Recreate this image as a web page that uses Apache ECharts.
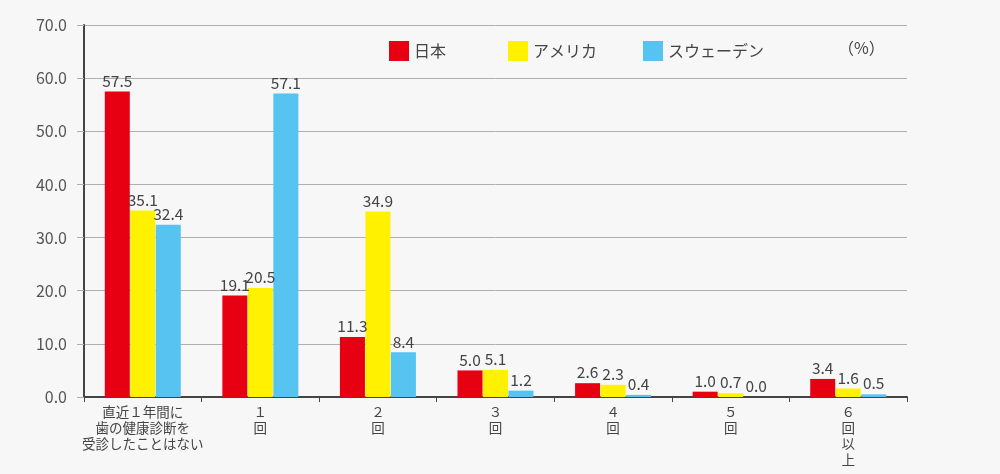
<!DOCTYPE html>
<html>
<head>
<meta charset="utf-8">
<script src="https://cdn.jsdelivr.net/npm/echarts@6/dist/echarts.min.js"></script>
<style>
  html, body { margin: 0; padding: 0; background: #f7f7f7; }
  #chart { width: 1000px; height: 474px; }
</style>
</head>
<body>
<div id="chart"></div>
<script>
const categories = [
  '直近１年間に\n歯の健康診断を\n受診したことはない',
  '１\n回',
  '２\n回',
  '３\n回',
  '４\n回',
  '５\n回',
  '６\n回\n以\n上'
]
const japan = [57.5, 19.1, 11.3, 5.0, 2.6, 1.0, 3.4]
const usa = [35.1, 20.5, 34.9, 5.1, 2.3, 0.7, 1.6]
const sweden = [32.4, 57.1, 8.4, 1.2, 0.4, 0.0, 0.5]
const seriesNames = ['日本', 'アメリカ', 'スウェーデン']
const colors = ['#e60012', '#fff100', '#56c3f1']

const font = '"Noto Sans CJK JP", "Noto Sans", sans-serif'

function makeSeries(name, data, color) {
  return {
    name,
    type: 'bar',
    data,
    barWidth: 25,
    barGap: '2%',
    itemStyle: { color },
    label: {
      show: true,
      position: 'top',
      distance: 3,
      color: '#444',
      fontSize: 15.5,
      fontFamily: font,
      formatter: (p) => p.value.toFixed(1)
    }
  }
}

function legendAt(left, name) {
  return {
    left,
    top: 41,
    padding: 0,
    data: [name],
    icon: 'rect',
    itemWidth: 20,
    itemHeight: 20,
    itemGap: 0,
    textStyle: { color: '#444', fontSize: 16, fontFamily: font }
  }
}

const chart = echarts.init(document.getElementById('chart'))
chart.setOption({
  backgroundColor: '#f7f7f7',
  animation: false,
  grid: { left: 84, right: 93, top: 25, bottom: 77 },
  legend: [
    legendAt(389, seriesNames[0]),
    legendAt(508, seriesNames[1]),
    legendAt(643, seriesNames[2])
  ],
  graphic: [{
    type: 'text',
    left: 838,
    top: 40,
    style: { text: '（%）', fill: '#444', fontSize: 16, fontFamily: font }
  }],
  xAxis: {
    type: 'category',
    data: categories,
    axisLine: { lineStyle: { color: '#444', width: 2 } },
    axisTick: { show: true, length: 5, inside: false, lineStyle: { color: '#444' } },
    axisLabel: {
      color: '#444',
      fontSize: 13.5,
      lineHeight: 16,
      margin: 7,
      interval: 0,
      fontFamily: font
    }
  },
  yAxis: {
    type: 'value',
    min: 0,
    max: 70,
    interval: 10,
    axisLine: { show: true, lineStyle: { color: '#444', width: 2 } },
    axisTick: { show: true, length: 7, lineStyle: { color: '#b0b0b0' } },
    splitLine: { lineStyle: { color: '#b0b0b0', width: 1 } },
    axisLabel: {
      color: '#555',
      fontSize: 16,
      margin: 17,
      fontFamily: font,
      formatter: (v) => v.toFixed(1)
    }
  },
  series: [
    makeSeries(seriesNames[0], japan, colors[0]),
    makeSeries(seriesNames[1], usa, colors[1]),
    makeSeries(seriesNames[2], sweden, colors[2])
  ]
})
</script>
</body>
</html>
